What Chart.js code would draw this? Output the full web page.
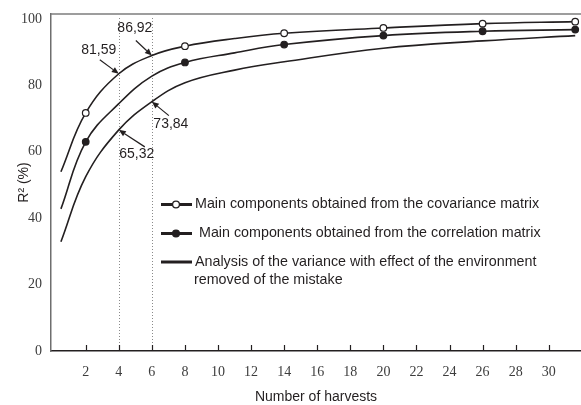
<!DOCTYPE html>
<html>
<head>
<meta charset="UTF-8">
<title>R² by number of harvests</title>
<script src="https://cdn.jsdelivr.net/npm/chart.js@4.4.0/dist/chart.umd.min.js"></script>
<style>
  html, body { margin: 0; padding: 0; background: #fff; overflow: hidden; }
  #chartBox { width: 581px; height: 405px; }
  canvas { display: block; }
</style>
<script>
var harvests = [0.5, 2, 4, 6, 8, 11, 14, 20, 26, 31.6];
// harvests that carry a marker on the two PCA curves
var markedHarvests = [2, 8, 14, 20, 26, 31.6];

var covariance  = [54.0, 71.7, 83.5, 89.0, 91.8, 94.1, 95.7, 97.3, 98.6, 99.2];
var correlation = [42.8, 63.0, 74.5, 82.8, 86.9, 89.8, 92.3, 95.0, 96.3, 96.8];
var anovaEnv    = [32.9, 52.5, 66.6, 75.1, 80.8, 84.6, 87.1, 91.2, 93.4, 95.0];

var seriesNames = [
  "Main components obtained from the covariance matrix",
  " Main components obtained from the correlation matrix",
  ["Analysis of the variance with effect of the environment", "removed of the mistake"]
];

var xTicks = [2, 4, 6, 8, 10, 12, 14, 16, 18, 20, 22, 24, 26, 28, 30];
var yTicks = [0, 20, 40, 60, 80, 100];

// dotted guide lines
var guideHarvests = [4, 6];

// callouts: label, harvest, which series the arrow points at
var calloutText = ["81,59", "86,92", "73,84", "65,32"];
var calloutHarvest = [4, 6, 6, 4];
var calloutSeries = [0, 0, 2, 2];
</script>
</head>
<body>
<div id="chartBox"><canvas id="myChart" width="581" height="405"></canvas></div>
<script>
  var SANS = "'Liberation Sans', Arial, sans-serif";
  var SERIF = "'Liberation Serif', 'Times New Roman', serif";
  var INK = "#231f20";

  function toPoints(ys) {
    return harvests.map(function (h, i) { return { x: h, y: ys[i] }; });
  }

  function markerRadius(ctx) {
    var p = ctx.raw;
    return p && markedHarvests.indexOf(p.x) >= 0 ? 3.3 : 0;
  }

  function noPadding(s) {
    s.paddingLeft = s.paddingRight = s.paddingTop = s.paddingBottom = 0;
  }

  // dotted guides, inward tick marks, top frame line
  var framePlugin = {
    id: "frame",
    beforeDatasetsDraw: function (chart) {
      var c = chart.ctx, a = chart.chartArea, xs = chart.scales.x;
      c.save();
      c.strokeStyle = "#8a8a8a";
      c.lineWidth = 1;
      c.setLineDash([1, 2]);
      guideHarvests.forEach(function (h) {
        var px = Math.round(xs.getPixelForValue(h)) + 0.5;
        c.beginPath();
        c.moveTo(px, a.top + 4);
        c.lineTo(px, a.bottom);
        c.stroke();
      });
      c.restore();
    },
    afterDraw: function (chart) {
      var c = chart.ctx, a = chart.chartArea, xs = chart.scales.x;
      c.save();
      c.strokeStyle = "#7d7d7d";
      c.lineWidth = 1.5;
      c.beginPath();
      c.moveTo(a.left, a.top);
      c.lineTo(chart.width, a.top);
      c.stroke();

      c.strokeStyle = INK;
      c.lineWidth = 1.2;
      xTicks.forEach(function (v) {
        var px = Math.round(xs.getPixelForValue(v)) + 0.5;
        c.beginPath();
        c.moveTo(px, a.bottom);
        c.lineTo(px, a.bottom - 6);
        c.stroke();
      });
      c.restore();
    }
  };

  // value callouts with arrows
  var calloutOffsets = [
    { tail: [-19, -14], text: [-20, -24] },
    { tail: [-16, -15], text: [-17, -27] },
    { tail: [17, 14], text: [19, 22] },
    { tail: [26, 17], text: [18, 24] }
  ];

  var calloutPlugin = {
    id: "callouts",
    afterDatasetsDraw: function (chart) {
      var c = chart.ctx, xs = chart.scales.x, ys = chart.scales.y;
      c.save();
      c.fillStyle = INK;
      c.strokeStyle = INK;
      c.lineWidth = 1.2;
      c.font = "14px " + SANS;
      c.textAlign = "center";
      c.textBaseline = "middle";
      calloutText.forEach(function (txt, i) {
        var data = chart.data.datasets[calloutSeries[i]].data;
        var idx = harvests.indexOf(calloutHarvest[i]);
        var tx = xs.getPixelForValue(calloutHarvest[i]);
        var ty = ys.getPixelForValue(data[idx].y);
        var off = calloutOffsets[i];
        var sx = tx + off.tail[0], sy = ty + off.tail[1];
        var ang = Math.atan2(ty - sy, tx - sx);
        var hl = 7, hw = 3;
        var bx = tx - hl * Math.cos(ang), by = ty - hl * Math.sin(ang);
        c.beginPath();
        c.moveTo(sx, sy);
        c.lineTo(bx, by);
        c.stroke();
        c.beginPath();
        c.moveTo(tx, ty);
        c.lineTo(bx + hw * Math.sin(ang), by - hw * Math.cos(ang));
        c.lineTo(bx - hw * Math.sin(ang), by + hw * Math.cos(ang));
        c.closePath();
        c.fill();
        c.fillText(txt, tx + off.text[0], ty + off.text[1]);
      });
      c.restore();
    }
  };

  // legend drawn inside the plot
  var legendRows = [
    { y: 204.5, textX: 195 },
    { y: 233.5, textX: 195 },
    { y: 262, textX: 195 }
  ];

  var legendPlugin = {
    id: "insideLegend",
    afterDraw: function (chart) {
      var c = chart.ctx;
      c.save();
      c.font = "14.3px " + SANS;
      c.textAlign = "left";
      c.textBaseline = "middle";
      chart.data.datasets.forEach(function (ds, i) {
        var row = legendRows[i];
        c.strokeStyle = INK;
        c.lineWidth = 3;
        c.beginPath();
        c.moveTo(161, row.y);
        c.lineTo(192, row.y);
        c.stroke();
        if (i < 2) {
          c.beginPath();
          c.arc(176, row.y, 3.4, 0, Math.PI * 2);
          c.fillStyle = ds.pointBackgroundColor;
          c.fill();
          c.lineWidth = 1.3;
          c.stroke();
        }
        c.fillStyle = INK;
        var lines = [].concat(seriesNames[i]);
        lines.forEach(function (t, k) {
          c.fillText(t, row.textX - k, row.y + k * 18);
        });
      });
      c.restore();
    }
  };

  var lineStyle = {
    borderColor: INK,
    borderWidth: 1.6,
    tension: 0.4,
    pointBorderColor: INK,
    pointBorderWidth: 1.2,
    pointRadius: markerRadius,
    pointHoverRadius: markerRadius,
    fill: false
  };

  new Chart(document.getElementById("myChart"), {
    type: "line",
    data: {
      datasets: [
        Object.assign({ label: "covariance", data: toPoints(covariance), pointBackgroundColor: "#ffffff" }, lineStyle),
        Object.assign({ label: "correlation", data: toPoints(correlation), pointBackgroundColor: INK }, lineStyle),
        Object.assign({ label: "anova", data: toPoints(anovaEnv), pointBackgroundColor: INK }, lineStyle, { pointRadius: 0, pointHoverRadius: 0 })
      ]
    },
    options: {
      responsive: false,
      animation: false,
      events: [],
      layout: { autoPadding: false, padding: { top: 14, left: 0, right: 0, bottom: 0 } },
      plugins: { legend: { display: false }, tooltip: { enabled: false } },
      scales: {
        x: {
          type: "linear",
          min: -0.1,
          max: 31.95,
          afterBuildTicks: function (s) { s.ticks = xTicks.map(function (v) { return { value: v }; }); },
          afterFit: function (s) { s.height = 54; noPadding(s); },
          grid: { display: false, drawTicks: false },
          border: { display: true, color: INK, width: 1.5 },
          ticks: { color: "#3c3c3c", font: { family: SERIF, size: 14 }, padding: 13, maxRotation: 0, autoSkip: false },
          title: { display: true, text: "Number of harvests", color: INK, font: { family: SANS, size: 14, lineHeight: 1.1 }, padding: { top: 0, bottom: 0 } }
        },
        y: {
          min: 0,
          max: 101.5,
          afterBuildTicks: function (s) { s.ticks = yTicks.map(function (v) { return { value: v }; }); },
          afterFit: function (s) { s.width = 51; noPadding(s); },
          grid: { display: false, drawTicks: false },
          border: { display: true, color: "#6e6e6e", width: 1.5 },
          ticks: { color: "#3c3c3c", font: { family: SERIF, size: 14 }, padding: 9 },
          title: { display: true, text: "R² (%)", color: INK, font: { family: SANS, size: 14, lineHeight: 1.1 }, padding: { top: 16, bottom: 0 } }
        }
      }
    },
    plugins: [framePlugin, calloutPlugin, legendPlugin]
  });
</script>
</body>
</html>
